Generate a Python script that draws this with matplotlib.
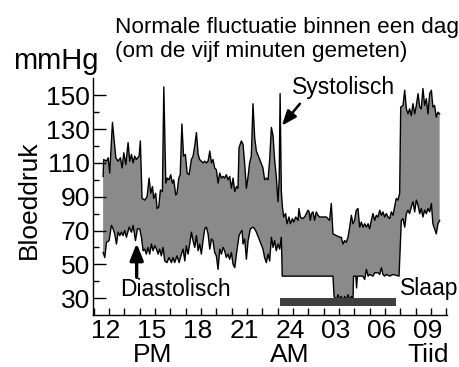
import matplotlib
matplotlib.use("Agg")
import matplotlib.pyplot as plt
import numpy as np
from matplotlib.transforms import ScaledTranslation

plt.rcParams['font.family'] = ['Liberation Sans', 'DejaVu Sans']

# Time of day in hours (24 = midnight, 27 = 03:00 the next morning)
sys_t = [11.61, 11.65, 11.83, 11.94, 12.04, 12.22, 12.44, 12.59, 12.74, 12.85, 12.96, 13.09,
         13.24, 13.35, 13.46, 13.57, 13.67, 13.78, 13.96, 14.04, 14.15, 14.33, 14.48, 14.61,
         14.72, 14.83, 14.91, 15.04, 15.13, 15.24, 15.35, 15.48, 15.57, 15.70, 15.80, 15.91,
         16.02, 16.13, 16.22, 16.35, 16.43, 16.55, 16.64, 16.75, 16.86, 16.98, 17.09, 17.22,
         17.37, 17.48, 17.59, 17.70, 17.81, 17.91, 18.02, 18.13, 18.24, 18.35, 18.46, 18.57,
         18.68, 18.78, 18.89, 19.00, 19.11, 19.22, 19.33, 19.44, 19.54, 19.65, 19.76, 19.87,
         19.98, 20.09, 20.20, 20.31, 20.41, 20.48, 20.63, 20.74, 20.85, 20.96, 21.07, 21.17,
         21.28, 21.39, 21.50, 21.61, 21.83, 22.04, 22.15, 22.26, 22.37, 22.48, 22.59, 22.70,
         22.80, 22.91, 23.02, 23.10, 23.16, 23.24, 23.31, 23.39, 23.52, 23.61, 23.74, 23.83,
         23.96, 24.05, 24.18, 24.33, 24.39, 24.48, 24.61, 24.76, 24.87, 24.98, 25.05, 25.13,
         25.20, 25.31, 25.41, 25.52, 25.63, 25.74, 25.96, 26.18, 26.28, 26.39, 26.50, 26.61,
         26.83, 27.05, 27.15, 27.26, 27.37, 27.48, 27.59, 27.70, 27.81, 27.91, 28.02, 28.13,
         28.24, 28.35, 28.46, 28.57, 28.68, 28.79, 28.90, 29.00, 29.11, 29.22, 29.33, 29.44,
         29.55, 29.66, 29.77, 29.87, 29.98, 30.09, 30.20, 30.31, 30.42, 30.53, 30.63, 30.74,
         30.85, 30.96, 31.03, 31.18, 31.29, 31.40, 31.50, 31.61, 31.72, 31.83, 31.94, 32.05,
         32.16, 32.27, 32.37, 32.48, 32.59, 32.70, 32.81, 32.92, 33.03, 33.13, 33.24, 33.35,
         33.46, 33.57]
sys_v = [102, 112, 111, 113, 104, 134, 113, 111, 113, 107, 116, 109,
         122, 111, 115, 110, 114, 112, 114, 123, 89, 88, 90, 101,
         92, 96, 89, 92, 83, 84, 94, 93, 155, 98, 101, 100,
         103, 98, 100, 91, 92, 101, 103, 133, 114, 115, 104, 103,
         112, 114, 120, 128, 115, 112, 111, 110, 111, 110, 111, 117,
         110, 112, 107, 106, 98, 104, 101, 102, 101, 103, 100, 102,
         95, 101, 93, 96, 95, 119, 123, 121, 109, 95, 102, 110,
         114, 145, 125, 117, 112, 107, 100, 101, 100, 112, 131, 126,
         112, 102, 87, 100, 151, 93, 84, 78, 80, 74, 78, 74,
         77, 75, 78, 76, 83, 78, 77, 78, 80, 82, 81, 76,
         80, 81, 76, 81, 79, 78, 78, 78, 77, 76, 86, 68,
         67, 66, 66, 62, 64, 63, 66, 72, 79, 74, 76, 82,
         83, 72, 75, 72, 74, 72, 74, 71, 76, 80, 76, 79,
         78, 82, 79, 81, 78, 80, 78, 77, 81, 79, 84, 89,
         88, 92, 143, 144, 153, 142, 139, 142, 138, 145, 139, 144,
         151, 143, 142, 154, 144, 148, 139, 151, 153, 143, 144, 137,
         140, 139]

dia_t = [11.61, 11.72, 11.83, 12.00, 12.15, 12.26, 12.37, 12.48, 12.59, 12.70, 12.80, 12.91,
         13.02, 13.13, 13.31, 13.46, 13.57, 13.72, 13.85, 14.00, 14.11, 14.22, 14.33, 14.43,
         14.54, 14.65, 14.76, 14.87, 14.98, 15.09, 15.20, 15.30, 15.41, 15.52, 15.63, 15.78,
         15.91, 16.07, 16.17, 16.28, 16.43, 16.57, 16.72, 16.83, 16.94, 17.04, 17.15, 17.26,
         17.37, 17.48, 17.59, 17.70, 17.81, 17.91, 18.02, 18.13, 18.24, 18.35, 18.46, 18.57,
         18.68, 18.78, 18.89, 19.00, 19.11, 19.22, 19.33, 19.44, 19.54, 19.65, 19.76, 19.87,
         19.98, 20.09, 20.20, 20.31, 20.48, 20.59, 20.68, 20.74, 20.85, 20.96, 21.07, 21.22,
         21.39, 21.50, 21.61, 21.83, 22.04, 22.15, 22.26, 22.37, 22.48, 22.59, 22.70, 22.80,
         22.91, 23.02, 23.13, 23.24, 23.30, 26.61, 26.68, 26.83, 26.94, 27.05, 27.15, 27.26,
         27.37, 27.48, 27.59, 27.70, 27.81, 27.92, 27.95, 28.10, 28.15, 28.20, 28.57, 28.68,
         28.79, 28.90, 29.00, 29.22, 29.33, 29.55, 29.66, 29.77, 29.87, 29.98, 30.09, 30.31,
         30.53, 30.92, 31.00, 31.07, 31.18, 31.29, 31.40, 31.50, 31.61, 31.72, 31.83, 31.94,
         32.05, 32.16, 32.27, 32.37, 32.48, 32.59, 32.70, 32.81, 32.92, 33.03, 33.13, 33.24,
         33.35, 33.46, 33.57]
dia_v = [57, 54, 63, 64, 73, 71, 68, 62, 69, 67, 69, 67,
         70, 66, 72, 69, 73, 64, 71, 71, 66, 58, 59, 56,
         60, 56, 62, 58, 61, 59, 56, 59, 55, 60, 52, 51,
         54, 51, 54, 51, 55, 51, 56, 59, 52, 61, 56, 62,
         69, 64, 60, 67, 58, 62, 56, 64, 71, 72, 68, 59,
         65, 64, 57, 55, 47, 59, 56, 60, 58, 54, 56, 53,
         57, 50, 48, 56, 67, 69, 70, 62, 65, 53, 64, 71,
         72, 71, 69, 64, 59, 54, 51, 56, 52, 66, 60, 64,
         58, 62, 59, 66, 43, 43, 31, 29, 32, 29, 31, 28,
         31, 29, 32, 29, 31, 30, 43, 43, 36, 43, 43, 41,
         47, 43, 44, 43, 45, 45, 44, 48, 44, 43, 44, 43,
         44, 43, 60, 76, 77, 72, 80, 82, 80, 84, 87, 81,
         88, 85, 80, 83, 78, 82, 80, 83, 81, 86, 74, 71,
         68, 74, 76]

hour_ticks = [12, 15, 18, 21, 24, 27, 30, 33]
hour_labels = ["12", "15", "18", "21", "24", "03", "06", "09"]
period_labels = {15: "PM", 24: "AM", 33: "Tiid"}
bp_ticks = [30, 50, 70, 90, 110, 130, 150]
sleep_start, sleep_end = 23.15, 30.75

W, H = 459, 367
fig = plt.figure(figsize=(W / 100, H / 100), dpi=100)
ax = fig.add_axes([93 / W, 1 - 315 / H, 354 / W, 236.6 / H])


def fx(px):
    return px / W


def fy(py):
    return 1 - py / H


# band between diastolic and systolic pressure
poly_x = np.concatenate([sys_t, dia_t[::-1]])
poly_y = np.concatenate([sys_v, dia_v[::-1]])
ax.fill(poly_x, poly_y, color='#8a8a8a', lw=0, zorder=1)
ax.plot(sys_t, sys_v, color='black', lw=1.0, zorder=2)
ax.plot(dia_t, dia_v, color='black', lw=1.0, zorder=2)

# sleep period
ax.broken_barh([(sleep_start, sleep_end - sleep_start)], (25.2, 4.7),
               facecolor='#404040', edgecolor='none', zorder=2)

ax.set_xlim(10.95, 34.05)
ax.set_ylim(20, 160)
for s in ('top', 'right'):
    ax.spines[s].set_visible(False)
for s in ('left', 'bottom'):
    ax.spines[s].set_linewidth(1.0)

# hourly ticks; every third hour labelled, with the part of day underneath
all_hours = list(range(11, 35))
xlabels = []
for h in all_hours:
    if h in hour_ticks:
        lab = hour_labels[hour_ticks.index(h)]
        if h in period_labels:
            lab += "\n" + period_labels[h]
        xlabels.append(lab)
    else:
        xlabels.append('')
ax.set_xticks(all_hours)
ax.set_xticklabels(xlabels)
ax.tick_params(axis='x', direction='in', length=5, width=1, labelsize=19, pad=3)
shift = ScaledTranslation(-3.0 / 100, 0, fig.dpi_scale_trans)
for lab in ax.get_xticklabels():
    lab.set_transform(lab.get_transform() + shift)
    lab.set_linespacing(1.0)

ax.set_yticks(bp_ticks)
ax.set_yticks(list(range(30, 151, 10)), minor=True)
ax.tick_params(axis='y', which='major', direction='in', length=9, width=1, labelsize=19, pad=2)
ax.tick_params(axis='y', which='minor', direction='in', length=4, width=1)

# annotations
ax.text(23.92, 151, "Systolisch", fontsize=16.5, ha='left', va='baseline', clip_on=False)
ax.annotate('', xy=(23.27, 132), xytext=(24.45, 145),
            arrowprops=dict(arrowstyle='-|>,head_length=0.9,head_width=0.35', lw=1.8,
                            color='black', shrinkA=0, shrinkB=0, mutation_scale=10))
ax.text(12.71, 31.1, "Diastolisch", fontsize=16.5, ha='left', va='baseline')
ax.annotate('', xy=(13.80, 62.4), xytext=(13.80, 42.3),
            arrowprops=dict(arrowstyle='-|>,head_length=1.0,head_width=0.4', lw=2.4,
                            color='black', shrinkA=0, shrinkB=0, mutation_scale=10))
ax.text(30.99, 31.7, "Slaap", fontsize=16.5, ha='left', va='baseline', clip_on=False)

fig.text(fx(115), fy(33), "Normale fluctuatie binnen een dag", fontsize=16.2, va='baseline')
fig.text(fx(115), fy(57), "(om de vijf minuten gemeten)", fontsize=16.2, va='baseline')
fig.text(fx(13), fy(69), "mmHg", fontsize=21, va='baseline')
fig.text(fx(29), fy(200), "Bloeddruk", fontsize=19, rotation=90, ha='center', va='center')

fig.savefig("out.png", dpi=100)
